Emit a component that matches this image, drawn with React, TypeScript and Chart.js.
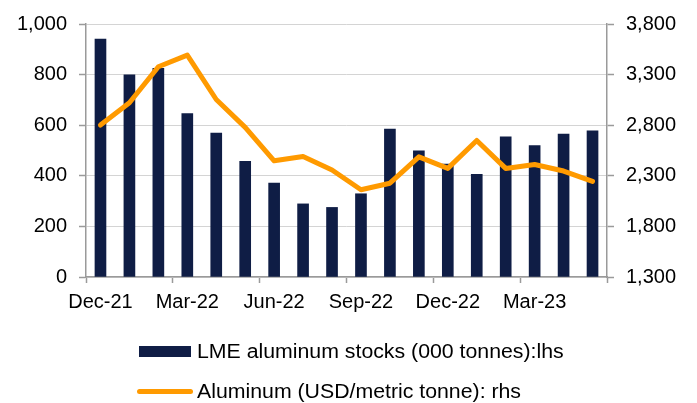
import React, { useEffect, useRef } from "react";
import { Chart, registerables } from "chart.js";

Chart.register(...registerables);

const months = [
  "Dec-21", "Jan-22", "Feb-22", "Mar-22", "Apr-22", "May-22", "Jun-22", "Jul-22", "Aug-22",
  "Sep-22", "Oct-22", "Nov-22", "Dec-22", "Jan-23", "Feb-23", "Mar-23", "Apr-23", "May-23",
];
const lmeStocks = [940, 799, 825, 646, 569, 457, 371, 289, 275, 329, 585, 499, 446, 406, 554, 519, 565, 578];
const aluminumPrice = [2801, 3022, 3378, 3492, 3054, 2779, 2448, 2490, 2357, 2162, 2227, 2487, 2373, 2649, 2373, 2412, 2347, 2244];
const stocksLabel = "LME aluminum stocks (000 tonnes):lhs";
const priceLabel = "Aluminum (USD/metric tonne): rhs";

const NAVY = "#0f1d45";
const ORANGE = "#ff9a00";
const AXIS = "#9a9a9a";
const FONT = "'Liberation Sans', Arial, sans-serif";

export default function App() {
  const ref = useRef<HTMLCanvasElement | null>(null);

  useEffect(() => {
    document.body.style.margin = "0";
    if (!ref.current) return;
    const chart = new Chart(ref.current, {
      type: "bar",
      data: {
        labels: months,
        datasets: [
          {
            type: "line",
            label: priceLabel,
            data: aluminumPrice,
            yAxisID: "y1",
            borderColor: ORANGE,
            backgroundColor: ORANGE,
            borderWidth: 5,
            pointRadius: 0,
            tension: 0,
            borderJoinStyle: "round",
            borderCapStyle: "round",
            order: 0,
          },
          {
            type: "bar",
            label: stocksLabel,
            data: lmeStocks,
            yAxisID: "y",
            backgroundColor: NAVY,
            barThickness: 11,
            order: 1,
          },
        ],
      },
      options: {
        responsive: true,
        maintainAspectRatio: false,
        animation: false,
        layout: { padding: { top: 20, bottom: 86, left: 0, right: 0 } },
        plugins: { legend: { display: false }, tooltip: { enabled: false } },
        scales: {
          x: {
            type: "category",
            offset: true,
            afterFit: (s: any) => { s.height = 40; },
            grid: {
              offset: true,
              drawOnChartArea: false,
              drawTicks: true,
              tickLength: 6,
              tickColor: (ctx: any) =>
                ctx.index === undefined || ctx.index % 3 === 0 ? AXIS : "rgba(0,0,0,0)",
              tickWidth: 1.5,
            },
            border: { color: AXIS, width: 1.5 },
            ticks: {
              autoSkip: false,
              maxRotation: 0,
              minRotation: 0,
              padding: 7,
              color: "#000",
              font: { family: FONT, size: 20 },
              callback: (_v: any, i: number) => (i % 3 === 0 ? months[i] : ""),
            },
          },
          y: {
            position: "left",
            min: 0,
            max: 1000,
            afterFit: (s: any) => { s.width = 86; },
            ticks: {
              stepSize: 200,
              padding: 12,
              color: "#000",
              font: { family: FONT, size: 20 },
              callback: (v: any) => Number(v).toLocaleString("en-US"),
            },
            grid: {
              color: "#d4d4d4",
              lineWidth: 1,
              borderDash: [2, 2],
              tickColor: AXIS,
              tickLength: 7,
              tickWidth: 1.5,
              tickBorderDash: [],
            },
            border: { color: AXIS, width: 1.5 },
          },
          y1: {
            position: "right",
            min: 1300,
            max: 3800,
            afterFit: (s: any) => { s.width = 90; },
            ticks: {
              stepSize: 500,
              padding: 12,
              color: "#000",
              font: { family: FONT, size: 20 },
              callback: (v: any) => Number(v).toLocaleString("en-US"),
            },
            grid: {
              drawOnChartArea: false,
              tickColor: AXIS,
              tickLength: 7,
              tickWidth: 1.5,
            },
            border: { color: AXIS, width: 1.5 },
          },
        },
      },
    });
    return () => chart.destroy();
  }, []);

  const textStyle: React.CSSProperties = {
    position: "absolute",
    left: 197,
    fontFamily: FONT,
    fontSize: 20,
    lineHeight: "24px",
    color: "#000",
    whiteSpace: "nowrap",
    transform: "scaleX(1.064)",
    transformOrigin: "left center",
  };

  return (
    <div style={{ position: "relative", width: 697, height: 403 }}>
      <canvas ref={ref} />
      <div style={{ position: "absolute", left: 139, top: 346, width: 52, height: 11, background: NAVY }} />
      <div style={{ ...textStyle, top: 339 }}>{stocksLabel}</div>
      <div style={{ position: "absolute", left: 137, top: 388.5, width: 56, height: 5, borderRadius: 3, background: ORANGE }} />
      <div style={{ ...textStyle, top: 379 }}>{priceLabel}</div>
    </div>
  );
}
